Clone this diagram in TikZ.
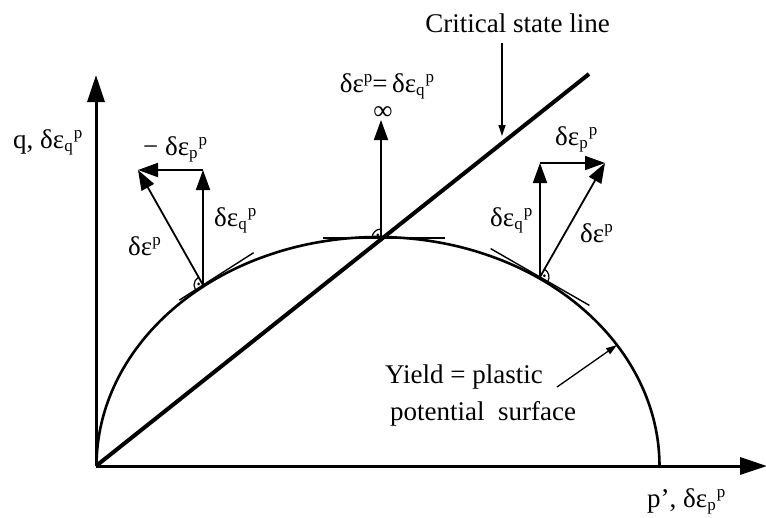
\documentclass[tikz,border=0pt]{standalone}
\usepackage{fontspec}
\setmainfont{Liberation Serif}
\usetikzlibrary{arrows.meta,calc}
\newcommand{\de}{δε}
\newcommand{\Sub}[1]{\raisebox{-0.3ex}{\fontsize{17}{17}\selectfont #1}}
\newcommand{\Sup}{\raisebox{0.8ex}{\fontsize{17}{17}\selectfont p}}
\begin{document}
\begin{tikzpicture}[x=1pt,y=-1pt,
  lbl/.style={inner sep=0pt,font=\fontsize{27}{32}\selectfont},
  axis/.style={line width=3pt,-{Triangle[length=27pt,width=17pt]}},
  vec/.style={line width=1.8pt,-{Triangle[length=20pt,width=14pt]}},
  pointer/.style={line width=1.3pt,-{Triangle[length=11pt,width=7pt]}},
  tang/.style={line width=1.4pt},
  rmark/.style={line width=1.2pt}]
\useasboundingbox (0,0) rectangle (766,517);
% axes
\coordinate (O) at (96,466);
\coordinate (Ytip) at (96,75);
\coordinate (Xtip) at (767,466);
\draw[axis] (O) -- (Ytip);
\draw[axis] (O) -- (Xtip);
% yield surface
\draw[line width=2.6pt] plot[domain=0:180,samples=150,smooth] ({378+281.5*cos(\x)},{466-229*sin(\x)});
% critical state line
\coordinate (CSLend) at (589,74);
\draw[line width=4pt] (O) -- (CSLend);
% top normal
\coordinate (T) at (381,238);
\coordinate (Ttip) at (381,120);
\coordinate (TtA) at (323,238);
\coordinate (TtB) at (445,238);
\draw[tang] (TtA) -- (TtB);
\draw[vec] (T) -- (Ttip);
\draw[rmark] ($(T)+(180:9pt)$) arc[start angle=180,end angle=90,radius=9pt];
\fill ($(T)+(135:4.5pt)$) circle (1.5pt);
% left normal
\coordinate (B1) at (203,285);
\coordinate (L1) at (138,170);
\coordinate (V1) at (203,170);
\coordinate (LtA) at ($(B1)+(-23.6,15.1)$);
\coordinate (LtB) at ($(B1)+(50.6,-32.3)$);
\draw[tang] (LtA) -- (LtB);
\draw[vec] (B1) -- (V1);
\draw[vec] (V1) -- (L1);
\draw[vec] (B1) -- (L1);
\draw[rmark] ($(B1)+(120:9pt)$) arc[start angle=120,end angle=212,radius=9pt];
\fill ($(B1)+(166:4.5pt)$) circle (1.5pt);
% right normal
\coordinate (B2) at (540,277);
\coordinate (R1) at (605,163);
\coordinate (V2) at (540,163);
\coordinate (RtA) at ($(B2)+(-49.4,-28.4)$);
\coordinate (RtB) at ($(B2)+(49.4,28.4)$);
\draw[tang] (RtA) -- (RtB);
\draw[vec] (B2) -- (V2);
\draw[vec] (V2) -- (R1);
\draw[vec] (B2) -- (R1);
\draw[rmark] ($(B2)+(60:9pt)$) arc[start angle=60,end angle=-30,radius=9pt];
\fill ($(B2)+(15:4.5pt)$) circle (1.5pt);
% pointers
\coordinate (CsA) at (502,43);
\coordinate (CsB) at (502,136);
\draw[pointer] (CsA) -- (CsB);
\coordinate (YA) at (557,387);
\coordinate (YB) at (617,345);
\draw[pointer] (YA) -- (YB);
% labels
\node[lbl,anchor=base east] (csl) at (610,32) {Critical state line};
\node[lbl,anchor=base] (toplab) at (387,92) {\de\Sup=\,\de\Sub{q}\kern1pt\Sup};
\node[lbl] (inf) at (383,113) {∞};
\node[lbl,anchor=base west] (lp) at (143,155) {− \de\Sub{p}\kern1pt\Sup};
\node[lbl,anchor=base west] (le) at (128,255) {\de\Sup};
\node[lbl,anchor=base west] (lq) at (214,226) {\de\Sub{q}\kern1pt\Sup};
\node[lbl,anchor=base west] (qax) at (13,148) {q, \de\Sub{q}\kern1pt\Sup};
\node[lbl,anchor=base west] (rp) at (555,145) {\de\Sub{p}\kern1pt\Sup};
\node[lbl,anchor=base west] (rq) at (490,226) {\de\Sub{q}\kern1pt\Sup};
\node[lbl,anchor=base west] (re) at (580,242) {\de\Sup};
\node[lbl,anchor=base west] (pax) at (647,507) {p’, \de\Sub{p}\kern1pt\Sup};
\node[lbl,anchor=base west] (y1) at (385,383) {Yield = plastic};
\node[lbl,anchor=base west] (y2) at (390,420) {potential\ \ surface};
\end{tikzpicture}
\end{document}
